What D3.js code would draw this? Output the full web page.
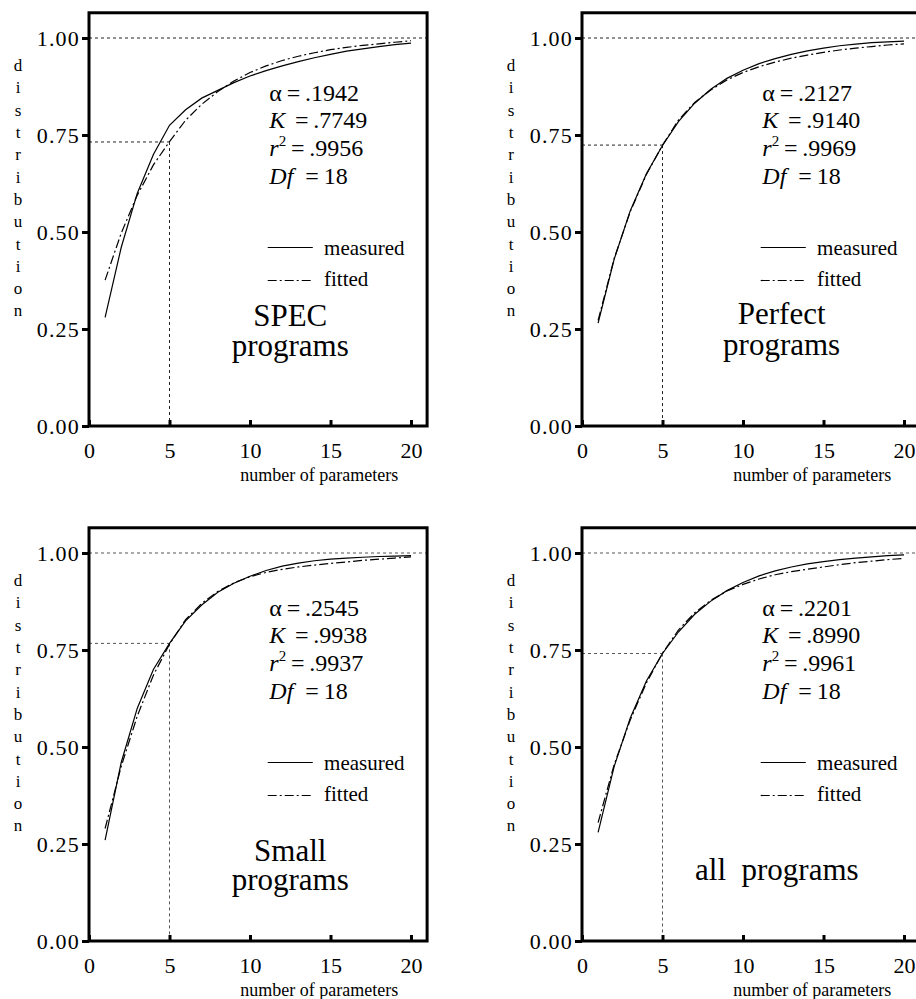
<!DOCTYPE html>
<meta charset="utf-8">
<html>
<head>
  <title>parameter distribution</title>
  <style>
    body { margin: 0; background: #fff; }
    svg, text { font-family: "Liberation Serif", "Times New Roman", "DejaVu Serif", serif; fill: #000; }
  </style>
</head>
<body>
<div id="my_dataviz"></div>

<!-- Load d3.js -->
<script src="https://d3js.org/d3.v7.min.js"></script>
<script>

// number of parameters (x values of every curve)
var params = [1, 2, 3, 4, 5, 6, 7, 8, 9, 10, 11, 12, 13, 14, 15, 16, 17, 18, 19, 20];

// measured / fitted distributions, one pair per panel
var specMeasured    = [0.28, 0.46, 0.60, 0.70, 0.775, 0.815, 0.845, 0.865, 0.885, 0.902, 0.916, 0.928, 0.939, 0.949, 0.958, 0.966, 0.972, 0.978, 0.983, 0.987];
var specFitted      = [0.376, 0.497, 0.595, 0.673, 0.733, 0.788, 0.829, 0.862, 0.889, 0.911, 0.928, 0.942, 0.953, 0.962, 0.970, 0.976, 0.981, 0.985, 0.989, 0.993];
var perfectMeasured = [0.265, 0.43, 0.555, 0.65, 0.723, 0.785, 0.832, 0.868, 0.896, 0.917, 0.934, 0.947, 0.958, 0.967, 0.974, 0.980, 0.984, 0.988, 0.990, 0.992];
var perfectFitted   = [0.272, 0.432, 0.553, 0.648, 0.724, 0.789, 0.834, 0.866, 0.892, 0.911, 0.926, 0.938, 0.948, 0.956, 0.963, 0.969, 0.974, 0.978, 0.982, 0.985];
var smallMeasured   = [0.26, 0.46, 0.60, 0.70, 0.767, 0.825, 0.866, 0.899, 0.922, 0.940, 0.955, 0.966, 0.974, 0.980, 0.984, 0.987, 0.989, 0.991, 0.992, 0.993];
var smallFitted     = [0.29, 0.45, 0.58, 0.685, 0.765, 0.828, 0.870, 0.901, 0.923, 0.939, 0.950, 0.958, 0.964, 0.969, 0.973, 0.977, 0.981, 0.984, 0.987, 0.990];
var allMeasured     = [0.28, 0.45, 0.575, 0.67, 0.741, 0.797, 0.842, 0.876, 0.903, 0.924, 0.941, 0.954, 0.964, 0.972, 0.978, 0.983, 0.987, 0.990, 0.993, 0.995];
var allFitted       = [0.305, 0.455, 0.57, 0.665, 0.742, 0.802, 0.846, 0.878, 0.902, 0.919, 0.933, 0.944, 0.952, 0.958, 0.964, 0.970, 0.975, 0.979, 0.983, 0.986];

// fitted value at 5 parameters (dotted guide lines)
var at5 = [0.732, 0.724, 0.767, 0.741];

// fit statistics
var alphas = [".1942", ".2127", ".2545", ".2201"];
var kVals  = [".7749", ".9140", ".9938", ".8990"];
var r2Vals = [".9956", ".9969", ".9937", ".9961"];
var dfVals = ["18", "18", "18", "18"];

// panel titles
var titles = [["SPEC", "programs"], ["Perfect", "programs"], ["Small", "programs"], ["all  programs"]];

// ticks
var xTicks = [0, 5, 10, 15, 20];
var yTicks = [0, 0.25, 0.50, 0.75, 1.00];

var measured = [specMeasured, perfectMeasured, smallMeasured, allMeasured];
var fitted   = [specFitted, perfectFitted, smallFitted, allFitted];

// layout of the 2x2 grid (pixel origin of each panel = value 0,0)
var panelLeft   = [89, 582, 89, 582];
var panelBottom = [426, 426, 941, 941];
var unitX = 16.1, unitY = 388;
var serif = "'Liberation Serif', 'Times New Roman', serif";
// title placement in data units, per panel
var titleX  = [12.5, 12.4, 12.5, 12.1];
var titleYs = [[0.258, 0.181], [0.262, 0.183], [0.206, 0.131], [0.157]];

var svg = d3.select("#my_dataviz")
  .append("svg")
    .attr("width", 916)
    .attr("height", 999)
    .style("font-family", serif);

for (var i = 0; i < 4; i++) {
  drawPanel(i);
}

function drawPanel(i) {
  var x = d3.scaleLinear().domain([0, 20]).range([panelLeft[i], panelLeft[i] + 20 * unitX]);
  var y = d3.scaleLinear().domain([0, 1]).range([panelBottom[i], panelBottom[i] - unitY]);
  var g = svg.append("g");

  // dotted guides
  var dot = function(sel) {
    return sel.attr("stroke", i < 2 ? "#222" : "#555").attr("stroke-width", 1)
      .attr("stroke-dasharray", "3,3").attr("fill", "none");
  };
  dot(g.append("line").attr("x1", x(0)).attr("x2", x(21)).attr("y1", y(1)).attr("y2", y(1)));
  dot(g.append("line").attr("x1", x(0)).attr("x2", x(5)).attr("y1", y(at5[i])).attr("y2", y(at5[i])));
  dot(g.append("line").attr("x1", x(5)).attr("x2", x(5)).attr("y1", y(at5[i])).attr("y2", y(0)));

  // curves
  var line = d3.line()
    .x(function(d) { return x(d[0]); })
    .y(function(d) { return y(d[1]); });
  var mPts = params.map(function(p, k) { return [p, measured[i][k]]; });
  var fPts = params.map(function(p, k) { return [p, fitted[i][k]]; });
  g.append("path").datum(mPts).attr("d", line)
    .attr("fill", "none").attr("stroke", "#000").attr("stroke-width", 1.2);
  g.append("path").datum(fPts).attr("d", line)
    .attr("fill", "none").attr("stroke", "#000").attr("stroke-width", 1.2)
    .attr("stroke-dasharray", "9,3,2,3");

  // frame
  g.append("rect")
    .attr("x", x(0)).attr("y", y(1.065))
    .attr("width", x(21) - x(0)).attr("height", y(0) - y(1.065))
    .attr("fill", "none").attr("stroke", "#000").attr("stroke-width", 3);

  // Y axis
  var yAxis = g.append("g")
    .attr("transform", "translate(" + x(0) + ",0)")
    .call(d3.axisLeft(y).tickValues(yTicks).tickFormat(d3.format(".2f")).tickSize(7).tickPadding(2))
    .attr("font-family", null).attr("font-size", null);
  yAxis.select(".domain").remove();
  yAxis.selectAll("line").attr("stroke-width", 3);
  yAxis.selectAll("text")
    .style("font-size", "22px").style("letter-spacing", "1.2px")
    .style("font-family", serif);

  // X axis (ticks point inward)
  var xAxis = g.append("g")
    .attr("transform", "translate(0," + y(0) + ")")
    .call(d3.axisBottom(x).tickValues(xTicks).tickSize(-6).tickPadding(16))
    .attr("font-family", null).attr("font-size", null);
  xAxis.select(".domain").remove();
  xAxis.selectAll("line").attr("stroke-width", 3);
  xAxis.selectAll("text").style("font-size", "22px").style("font-family", serif);

  g.append("text")
    .attr("x", x(14.3)).attr("y", y(0) + 55)
    .attr("text-anchor", "middle")
    .style("font-size", "18px").style("font-family", serif)
    .text("number of parameters");

  // vertical "distribution" label, one letter per row
  var letters = "distribution".split("");
  g.selectAll(".ylab").data(letters).enter().append("text")
    .attr("class", "ylab")
    .attr("x", x(0) - 71)
    .attr("y", function(d, k) { return y(0.93) + 6 + k * 22.3; })
    .attr("text-anchor", "middle")
    .style("font-size", "17px").style("font-family", serif)
    .text(function(d) { return d; });

  // fit statistics
  var ax = x(11.2);
  var st = g.append("g").style("font-size", "24px").style("font-family", serif);
  var t1 = st.append("text").attr("x", ax).attr("y", y(0.838));
  t1.append("tspan").text("\u03b1\u2009=\u2009" + alphas[i]);
  var t2 = st.append("text").attr("x", ax).attr("y", y(0.767));
  t2.append("tspan").style("font-style", "italic").text("K");
  t2.append("tspan").text("\u2009\u2009=\u2009" + kVals[i]);
  var t3 = st.append("text").attr("x", ax).attr("y", y(0.695));
  t3.append("tspan").style("font-style", "italic").text("r");
  t3.append("tspan").attr("dy", -10).style("font-size", "15px").text("2");
  t3.append("tspan").attr("dy", 10).text("\u2009=\u2009" + r2Vals[i]);
  var t4 = st.append("text").attr("x", ax).attr("y", y(0.625));
  t4.append("tspan").style("font-style", "italic").text("Df");
  t4.append("tspan").text("\u00a0\u00a0=\u2009" + dfVals[i]);

  // legend
  g.append("line")
    .attr("x1", x(11.1)).attr("x2", x(13.9)).attr("y1", y(0.46)).attr("y2", y(0.46))
    .attr("stroke", "#000").attr("stroke-width", 1.2);
  g.append("line")
    .attr("x1", x(11.1)).attr("x2", x(13.9)).attr("y1", y(0.375)).attr("y2", y(0.375))
    .attr("stroke", "#000").attr("stroke-width", 1.2).attr("stroke-dasharray", "9,3,2,3");
  g.append("text").attr("x", x(14.6)).attr("y", y(0.44))
    .style("font-size", "21px").style("font-family", serif).text("measured");
  g.append("text").attr("x", x(14.6)).attr("y", y(0.36))
    .style("font-size", "21px").style("font-family", serif).text("fitted");

  // panel title
  titles[i].forEach(function(s, k) {
    g.append("text")
      .attr("x", x(titleX[i])).attr("y", y(titleYs[i][k]))
      .attr("text-anchor", "middle")
      .style("font-size", "31px").style("font-family", serif)
      .style("white-space", "pre")
      .text(s);
  });
}

</script>
</body>
</html>
